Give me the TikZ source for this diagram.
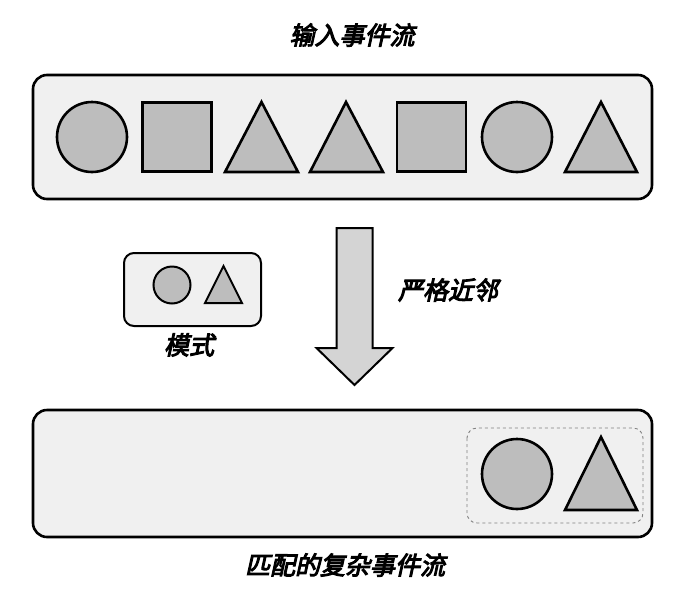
\documentclass[tikz,border=0pt]{standalone}
\usepackage{fontspec}
\newfontfamily\cjk[FakeSlant=0.22,FakeBold=4]{Noto Sans CJK SC}
\usetikzlibrary{positioning}

\definecolor{boxgray}{HTML}{F0F0F0}
\definecolor{evtgray}{HTML}{BDBDBD}
\definecolor{arrowgray}{HTML}{D4D4D4}

\tikzset{
  stream/.style={draw, line width=2.6pt, rounded corners=14pt, fill=boxgray},
  evt/.style={draw, line width=2.6pt, fill=evtgray, inner sep=0pt},
  circ/.style={evt, circle, minimum size=70pt},
  sq/.style={evt, rectangle, minimum size=69pt},
  lbl/.style={font=\cjk\fontsize{25pt}{27pt}\selectfont}
}

\begin{document}
\begin{tikzpicture}[x=1pt, y=-1pt]
  \useasboundingbox (0,0) rectangle (699,603);

  % Input stream
  \node[lbl] (intitle) at (352,35) {输入事件流};
  \draw[stream] (33,75) rectangle (652,199);
  \node[circ] (e1) at (92,137) {};
  \node[sq] (e2) at (177,137) {};
  \draw[evt, line join=miter] (225,172) -- (261.5,102) -- (298,172) -- cycle;
  \draw[evt, line join=miter] (310,172) -- (346,102) -- (383,172) -- cycle;
  \node[sq] (e5) at (431.5,137) {};
  \node[circ] (e6) at (517,137) {};
  \draw[evt, line join=miter] (565,172) -- (601,102) -- (637,172) -- cycle;

  % Pattern
  \draw[stream, line width=2pt, rounded corners=10pt] (124,253) rectangle (261,326);
  \node[evt, circle, minimum size=37pt, line width=2pt] (p1) at (172,285) {};
  \draw[evt, line width=2pt, line join=miter] (205,303) -- (223.5,266) -- (242,303) -- cycle;
  \node[lbl] (pattern) at (189,345) {模式};

  % Strict contiguity arrow
  \draw[line width=2pt, fill=arrowgray, line join=miter]
    (336.5,228) -- (372.5,228) -- (372.5,348) -- (392.5,348)
    -- (354.5,385) -- (316.5,348) -- (336.5,348) -- cycle;
  \node[lbl] (contig) at (448,290) {严格近邻};

  % Matched complex event stream
  \draw[stream] (33,410) rectangle (652,537);
  \draw[gray, dashed, line width=0.9pt, rounded corners=10pt] (467,428) rectangle (643,523);
  \node[circ] (m1) at (517,474) {};
  \draw[evt, line join=miter] (565,510) -- (601,437) -- (637,510) -- cycle;
  \node[lbl] (outtitle) at (345,565) {匹配的复杂事件流};
\end{tikzpicture}
\end{document}
